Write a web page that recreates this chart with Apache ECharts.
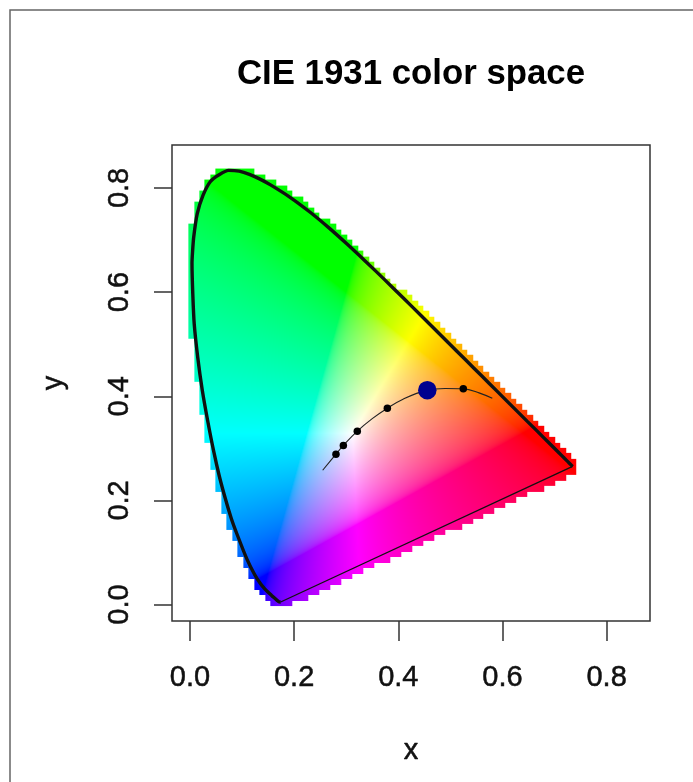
<!DOCTYPE html>
<html><head><meta charset="utf-8">
<style>html,body{margin:0;padding:0;background:#fff}#c{width:693px;height:782px;overflow:hidden;filter:blur(0.55px)}</style>
<script src="https://cdn.jsdelivr.net/npm/echarts@6/dist/echarts.min.js"></script>
</head><body><div id="c"></div>
<script>
const locusX=[.1741,.1733,.1714,.1689,.1644,.1566,.1440,.1355,.1241,.1096,.0913,.0795,.0687,.0565,.0454,.0340,.0235,.0150,.0082,.0054,.0039,.0050,.0072,.0139,.0250,.0389,.0559,.0743,.0943,.1142,.1345,.1547,.1929,.2296,.2658,.3016,.3373,.3731,.4087,.4441,.4788,.5125,.5448,.5752,.6029,.6270,.6482,.6658,.6915,.7079,.7190,.7260,.7300,.7347];
const locusY=[.0050,.0048,.0051,.0069,.0109,.0177,.0297,.0399,.0578,.0868,.1327,.1650,.2007,.2460,.2950,.3530,.4127,.4740,.5384,.5970,.6548,.6780,.7060,.7502,.7857,.8120,.8254,.8338,.8323,.8262,.8170,.8059,.7816,.7543,.7243,.6923,.6589,.6245,.5896,.5547,.5202,.4866,.4544,.4242,.3965,.3725,.3514,.3340,.3083,.2920,.2809,.2740,.2700,.2653];
const purpleX=[.1741,.7347];
const purpleY=[.0050,.2653];
const planckX=[.2548,.2803,.2945,.3213,.3500,.3790,.4100,.4557,.4900,.5248,.5550,.5805];
const planckY=[.2580,.2888,.3055,.3330,.3570,.3770,.3950,.4118,.4150,.4143,.4065,.3960];
const markX=[.2803,.2945,.3213,.3790,.5248];
const markY=[.2888,.3055,.3330,.3770,.4143];
const highlightX=[.4557];
const highlightY=[.4118];
const xTicks=[0,.2,.4,.6,.8];
const yTicks=[0,.2,.4,.6,.8];

const zip=(a,b)=>a.map((v,i)=>[v,b[i]]);
const poly=zip(locusX,locusY);
function inside(x,y){let c=false;for(let i=0,j=poly.length-1;i<poly.length;j=i++){const a=poly[i],b=poly[j];if((a[1]>y)!==(b[1]>y)&&x<(b[0]-a[0])*(y-a[1])/(b[1]-a[1])+a[0])c=!c;}return c;}
function dist(x,y){let m=1e9;for(let i=0,j=poly.length-1;i<poly.length;j=i++){const a=poly[j],b=poly[i],dx=b[0]-a[0],dy=b[1]-a[1];let t=((x-a[0])*dx+(y-a[1])*dy)/(dx*dx+dy*dy||1);t=Math.max(0,Math.min(1,t));m=Math.min(m,Math.hypot(x-a[0]-t*dx,y-a[1]-t*dy));}return m;}
const cell=0.0105,reach=0.0105,ox=-0.003,oy=-0.0035,sx=0.002,sy=-0.003;
const fx0=-0.03,fx1=0.78,fy0=-0.02,fy1=0.87,pw=422,ph=463;
function fieldCanvas(){
  const cv=document.createElement('canvas');cv.width=pw;cv.height=ph;
  const g=cv.getContext('2d'),im=g.createImageData(pw,ph),memo={};
  const gam=v=>v<=.0031308?12.92*v:1.055*Math.pow(v,1/2.4)-.055;
  for(let py=0;py<ph;py++)for(let px=0;px<pw;px++){
    const x=fx0+(px+.5)/pw*(fx1-fx0),y=fy1-(py+.5)/ph*(fy1-fy0);
    const i=Math.floor((x-ox)/cell),j=Math.floor((y-oy)/cell),k=i+'_'+j;
    if(!(k in memo)){const cx=ox+(i+.5)*cell-sx,cy=oy+(j+.5)*cell-sy;memo[k]=inside(cx,cy)||dist(cx,cy)<=reach;}
    if(!memo[k])continue;
    const Y=Math.max(y,.002),X=x/Y,Z=(1-x-y)/Y;
    let r=3.2406*X-1.5372-.4986*Z,gg=-.9689*X+1.8758+.0415*Z,b=.0557*X-.2040+1.0570*Z;
    r=Math.max(r,0);gg=Math.max(gg,0);b=Math.max(b,0);
    const mx=Math.max(r,gg,b)||1,o=(py*pw+px)*4;
    im.data[o]=255*gam(r/mx);im.data[o+1]=255*gam(gg/mx);im.data[o+2]=255*gam(b/mx);im.data[o+3]=255;
  }
  g.putImageData(im,0,0);return cv;
}
const field=fieldCanvas();
const font='"Liberation Sans",Arial,sans-serif';
const tickStyle={color:'#333',width:1.5};
const labelText={fontFamily:font,fontSize:29,color:'#111',textBorderColor:'#111',textBorderWidth:0.5};
const chart=echarts.init(document.getElementById('c'),null,{renderer:'canvas'});
chart.setOption({
  animation:false,
  backgroundColor:'#fff',
  title:{text:'CIE 1931 color space',left:406,top:69,textAlign:'center',textVerticalAlign:'middle',
    textStyle:{fontFamily:font,fontSize:34.8,fontWeight:'bold',color:'#000'}},
  graphic:[{type:'rect',silent:true,shape:{x:10,y:10,width:800,height:900},style:{fill:null,stroke:'#666',lineWidth:1.5}}],
  grid:{left:172,top:145,width:478,height:476,show:true,borderColor:'#333',borderWidth:1.5,backgroundColor:'transparent'},
  xAxis:{type:'value',min:-0.0345,max:0.8833,name:'x',nameLocation:'middle',nameGap:115,
    nameTextStyle:labelText,
    splitLine:{show:false},axisLine:{show:false,onZero:false},
    axisTick:{show:true,length:20,lineStyle:tickStyle,customValues:xTicks},
    axisLabel:{...labelText,margin:42,customValues:xTicks,hideOverlap:false,formatter:v=>v.toFixed(1)}},
  yAxis:{type:'value',min:-0.0315,max:0.8825,name:'y',nameLocation:'middle',nameGap:104,
    nameTextStyle:labelText,
    splitLine:{show:false},axisLine:{show:false,onZero:false},
    axisTick:{show:true,length:18,lineStyle:tickStyle,customValues:yTicks},
    axisLabel:{...labelText,margin:38,rotate:90,customValues:yTicks,hideOverlap:false,formatter:v=>v.toFixed(1)}},
  series:[
    {type:'custom',silent:true,clip:true,z:1,data:[[fx0,fy0,fx1,fy1]],encode:{x:[0,2],y:[1,3]},
     renderItem(p,api){const a=api.coord([api.value(0),api.value(3)]),b=api.coord([api.value(2),api.value(1)]);
       return {type:'image',style:{image:field,x:a[0],y:a[1],width:b[0]-a[0],height:b[1]-a[1]}};}},
    {type:'line',name:'locus',z:3,data:poly,showSymbol:false,symbol:'none',smooth:0.25,lineStyle:{color:'#111',width:3.4}},
    {type:'line',name:'purple line',z:3,data:zip(purpleX,purpleY),showSymbol:false,symbol:'none',lineStyle:{color:'#111',width:1.3}},
    {type:'line',name:'planckian',z:4,data:zip(planckX,planckY),showSymbol:false,symbol:'none',smooth:0.4,lineStyle:{color:'#222',width:1.1}},
    {type:'scatter',name:'points',z:5,data:zip(markX,markY),symbol:'circle',symbolSize:7.5,itemStyle:{color:'#000',opacity:1}},
    {type:'scatter',name:'highlight',z:6,data:zip(highlightX,highlightY),symbol:'circle',symbolSize:18.5,itemStyle:{color:'#00008f',opacity:1}}
  ]
});
</script></body></html>
